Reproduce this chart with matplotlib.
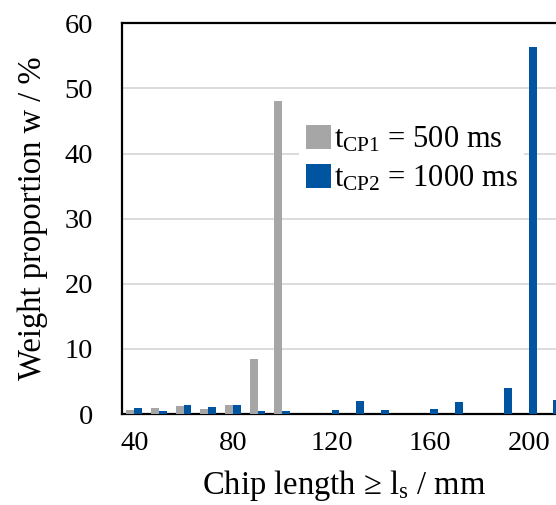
import matplotlib
matplotlib.use('Agg')
import matplotlib.pyplot as plt
import numpy as np

plt.rcParams['font.family'] = ['Liberation Serif', 'DejaVu Serif']
plt.rcParams['mathtext.fontset'] = 'custom'
plt.rcParams['mathtext.rm'] = 'Liberation Serif'

# chip length classes in mm
lengths = [40, 50, 60, 70, 80, 90, 100, 110, 120, 130, 140, 150, 160, 170, 180, 190, 200, 210]
w_cp1 = [0.7, 0.9, 1.3, 0.8, 1.45, 8.4, 48.1, 0, 0, 0, 0, 0, 0, 0, 0, 0, 0, 0]
w_cp2 = [0.9, 0.55, 1.4, 1.05, 1.35, 0.55, 0.55, 0, 0.6, 2.0, 0.7, 0, 0.75, 1.9, 0, 4.0, 56.4, 2.1]
x_ticks = [40, 80, 120, 160, 200]
y_ticks = [0, 10, 20, 30, 40, 50, 60]

gray = '#A6A6A6'
blue = '#0054A0'

fig = plt.figure(figsize=(5.56, 5.05), dpi=100)
ax = fig.add_axes([0.2194, 0.180, 0.798, 0.774])

x = np.array(lengths)
bw = 3.2
ax.bar(x - bw / 2, w_cp1, width=bw, color=gray, label=r'$\mathrm{t_{CP1}}$ = 500 ms', zorder=3)
ax.bar(x + bw / 2, w_cp2, width=bw, color=blue, label=r'$\mathrm{t_{CP2}}$ = 1000 ms', zorder=3)

ax.set_xlim(35, 215)
ax.set_ylim(0, 60)
ax.set_xticks(x_ticks)
ax.set_yticks(y_ticks)
ax.grid(axis='y', color='#D9D9D9', linewidth=1.3, zorder=0)
ax.set_axisbelow(True)

for s in ['left', 'bottom', 'top']:
    ax.spines[s].set_linewidth(1.6)
    ax.spines[s].set_color('black')
ax.spines['right'].set_visible(False)

ax.tick_params(axis='both', length=0, labelsize=20.5)
ax.tick_params(axis='y', pad=21)
ax.tick_params(axis='x', pad=12)

ax.set_xlabel(r'Chip length ≥ $\mathrm{l_s}$ / mm', fontsize=23.5, labelpad=9)
ax.set_ylabel('Weight proportion w / %', fontsize=23.5, labelpad=12)

leg = ax.legend(loc='upper left', bbox_to_anchor=(0.40, 0.755), fontsize=22,
                handlelength=0.82, handleheight=0.82, handletextpad=0.12,
                labelspacing=0.3, borderpad=0.2, borderaxespad=0,
                frameon=True, fancybox=False, framealpha=1)
leg.get_frame().set_edgecolor('none')
leg.get_frame().set_facecolor('white')

fig.savefig('out.png', dpi=100)
